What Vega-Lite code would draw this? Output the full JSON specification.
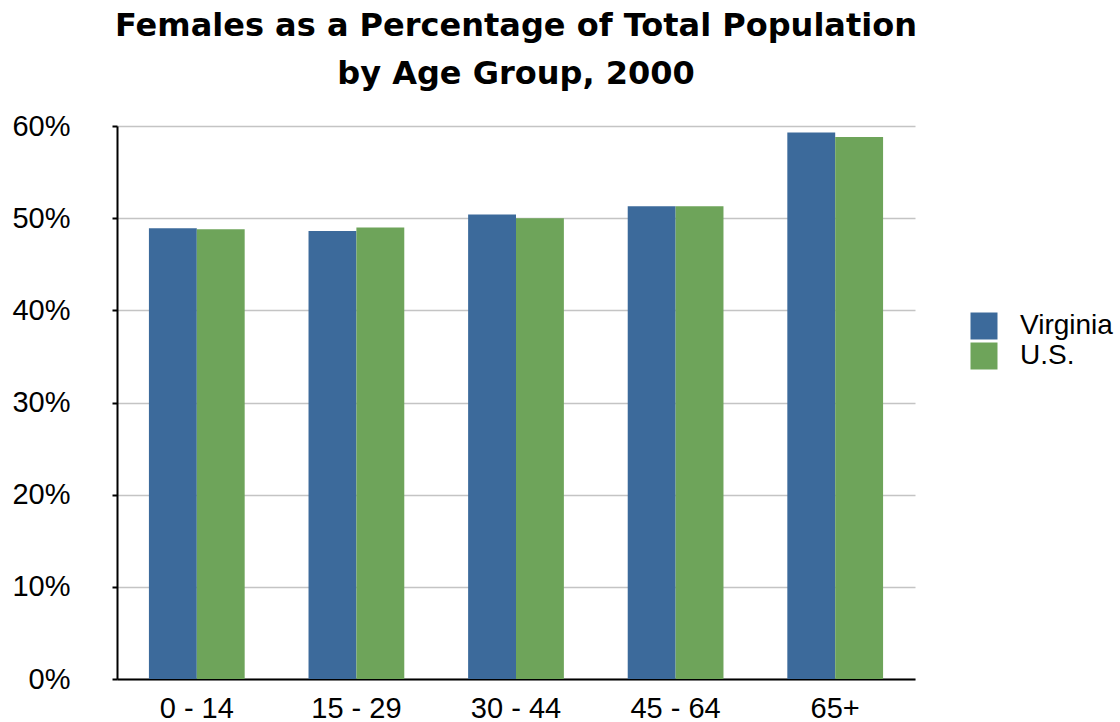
{
  "$schema": "https://vega.github.io/schema/vega-lite/v6.json",
  "width": 798,
  "height": 553,
  "autosize": "none",
  "padding": {"left": 117, "top": 126, "right": 205, "bottom": 43},
  "background": "white",
  "title": {
    "text": ["Females as a Percentage of Total Population", "by Age Group, 2000"],
    "font": "DejaVu Sans",
    "fontWeight": "bold",
    "fontSize": 32,
    "lineHeight": 48,
    "color": "black",
    "anchor": "middle",
    "frame": "group",
    "offset": 21
  },
  "data": {
    "values": [
      {"age": "0 - 14", "region": "Virginia", "pct": 48.9},
      {"age": "0 - 14", "region": "U.S.", "pct": 48.8},
      {"age": "15 - 29", "region": "Virginia", "pct": 48.6},
      {"age": "15 - 29", "region": "U.S.", "pct": 49.0},
      {"age": "30 - 44", "region": "Virginia", "pct": 50.4},
      {"age": "30 - 44", "region": "U.S.", "pct": 50.0},
      {"age": "45 - 64", "region": "Virginia", "pct": 51.3},
      {"age": "45 - 64", "region": "U.S.", "pct": 51.3},
      {"age": "65+", "region": "Virginia", "pct": 59.3},
      {"age": "65+", "region": "U.S.", "pct": 58.8}
    ]
  },
  "mark": {"type": "bar"},
  "encoding": {
    "x": {
      "field": "age",
      "type": "nominal",
      "sort": null,
      "scale": {"paddingInner": 0.4, "paddingOuter": 0.2},
      "axis": {
        "title": null,
        "labelAngle": 0,
        "labelFont": "Liberation Sans",
        "labelFontSize": 29,
        "labelColor": "black",
        "labelPadding": 15,
        "ticks": false,
        "domainColor": "black",
        "domainWidth": 2,
        "grid": false
      }
    },
    "xOffset": {"field": "region", "type": "nominal", "sort": ["Virginia", "U.S."]},
    "y": {
      "field": "pct",
      "type": "quantitative",
      "scale": {"domain": [0, 60]},
      "axis": {
        "title": null,
        "values": [0, 10, 20, 30, 40, 50, 60],
        "labelExpr": "datum.value + '%'",
        "labelFont": "Liberation Sans",
        "labelFontSize": 29,
        "labelColor": "black",
        "labelPadding": 42,
        "tickSize": 5,
        "tickColor": "black",
        "tickWidth": 2,
        "domainColor": "black",
        "domainWidth": 2,
        "gridColor": "#c4c4c4",
        "gridWidth": 1.5
      }
    },
    "color": {
      "field": "region",
      "type": "nominal",
      "sort": ["Virginia", "U.S."],
      "scale": {"domain": ["Virginia", "U.S."], "range": ["#3c6a9b", "#6ea45a"]},
      "legend": {
        "title": null,
        "orient": "none",
        "legendX": 853,
        "legendY": 186,
        "symbolType": "square",
        "symbolSize": 729,
        "symbolStrokeWidth": 0,
        "labelFont": "Liberation Sans",
        "labelFontSize": 28,
        "labelColor": "black",
        "labelOffset": 22,
        "rowPadding": 2
      }
    }
  },
  "config": {"view": {"stroke": null}}
}
